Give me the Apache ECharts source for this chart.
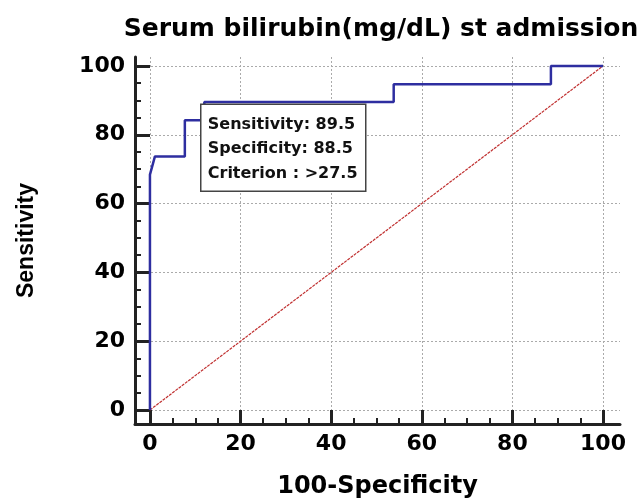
<!DOCTYPE html>
<html>
<head>
<meta charset="utf-8">
<script src="https://cdn.jsdelivr.net/npm/echarts@6/dist/echarts.min.js"></script>
<style>
  html, body { margin: 0; padding: 0; background: #fff; }
  #chart { width: 643px; height: 501px; }
</style>
</head>
<body>
<div id="chart"></div>
<script>
  // ROC curve points (100-Specificity, Sensitivity)
  var rocX = [0, 0, 1.1, 7.7, 7.7, 12, 12, 53.8, 53.8, 88.5, 88.5, 100];
  var rocY = [0, 68.4, 73.7, 73.7, 84.2, 84.2, 89.5, 89.5, 94.7, 94.7, 100, 100];
  // reference diagonal
  var diagX = [0, 100];
  var diagY = [0, 100];
  var majorTicks = [0, 20, 40, 60, 80, 100];
  var minorTicks = [5, 10, 15, 25, 30, 35, 45, 50, 55, 65, 70, 75, 85, 90, 95];
  var infoLines = ['Sensitivity: 89.5', 'Specificity: 88.5', 'Criterion : >27.5'];

  var rocData = rocX.map(function (x, i) { return [x, rocY[i]]; });
  var diagData = diagX.map(function (x, i) { return [x, diagY[i]]; });

  var chart = echarts.init(document.getElementById('chart'));
  var font = 'DejaVu Sans, Liberation Sans, Arial';
  var labelFont = { color: '#000', fontSize: 22, fontWeight: 'bold', fontFamily: font };
  var xRange = { min: -3.3, max: 103.75 };
  var yRange = { min: -4.07, max: 102.6 };

  function majorAxis(range, name, nameGap, nameStyle, margin, tickLen) {
    return {
      type: 'value',
      min: range.min, max: range.max,
      name: name,
      nameLocation: 'middle',
      nameGap: nameGap,
      nameTextStyle: nameStyle,
      axisLine: { show: true, onZero: false, lineStyle: { color: '#222', width: 3 } },
      axisTick: { show: true, inside: true, length: tickLen, customValues: majorTicks, lineStyle: { color: '#222', width: 3 } },
      axisLabel: Object.assign({ margin: margin, customValues: majorTicks }, labelFont),
      splitLine: { show: true, lineStyle: { color: '#aaa', type: [2, 2], width: 1 } }
    };
  }
  function minorAxis(range) {
    return {
      type: 'value',
      min: range.min, max: range.max,
      axisLine: { show: false, onZero: false },
      axisTick: { show: true, inside: true, length: 6, customValues: minorTicks, lineStyle: { color: '#222', width: 2 } },
      axisLabel: { show: false },
      splitLine: { show: false }
    };
  }

  var option = {
    animation: false,
    title: {
      text: 'Serum bilirubin(mg/dL) st admission',
      left: 376,
      textAlign: 'center',
      top: 12,
      textStyle: { fontSize: 25, fontWeight: 'bold', color: '#000', fontFamily: font }
    },
    grid: { left: 135, right: 23, top: 57, bottom: 77, outerBoundsMode: 'none', containLabel: false },
    xAxis: [
      majorAxis(xRange, '100-Specificity', 51,
        { fontSize: 24, fontWeight: 'bold', color: '#000', fontFamily: font }, 9, 14),
      Object.assign(minorAxis(xRange), { position: 'bottom' })
    ],
    yAxis: [
      majorAxis(yRange, 'Sensitivity', 97,
        { fontSize: 23, fontWeight: 'bold', color: '#000', fontFamily: 'Liberation Sans Narrow, Liberation Sans, Arial' }, 10, 15),
      Object.assign(minorAxis(yRange), { position: 'left' })
    ],
    series: [
      {
        type: 'line',
        data: diagData,
        symbol: 'none',
        lineStyle: { color: '#c03030', width: 1.2, type: [3, 1] },
        z: 2
      },
      {
        type: 'line',
        data: rocData,
        symbol: 'none',
        lineStyle: { color: '#2e2ea0', width: 2.5 },
        z: 3
      }
    ],
    graphic: [
      {
        type: 'group',
        left: 200,
        top: 103.5,
        z: 100,
        children: [
          {
            type: 'rect',
            z: 100,
            shape: { x: 0, y: 0, width: 165, height: 87 },
            style: { fill: '#fff', stroke: '#444', lineWidth: 1.5 }
          },
          {
            type: 'text',
            z: 101,
            left: 7, top: 8,
            style: {
              text: infoLines.join('\n'),
              fill: '#111',
              font: 'bold 16px "DejaVu Sans", "Liberation Sans", Arial',
              lineHeight: 24.5
            }
          }
        ]
      }
    ]
  };
  chart.setOption(option);
</script>
</body>
</html>
